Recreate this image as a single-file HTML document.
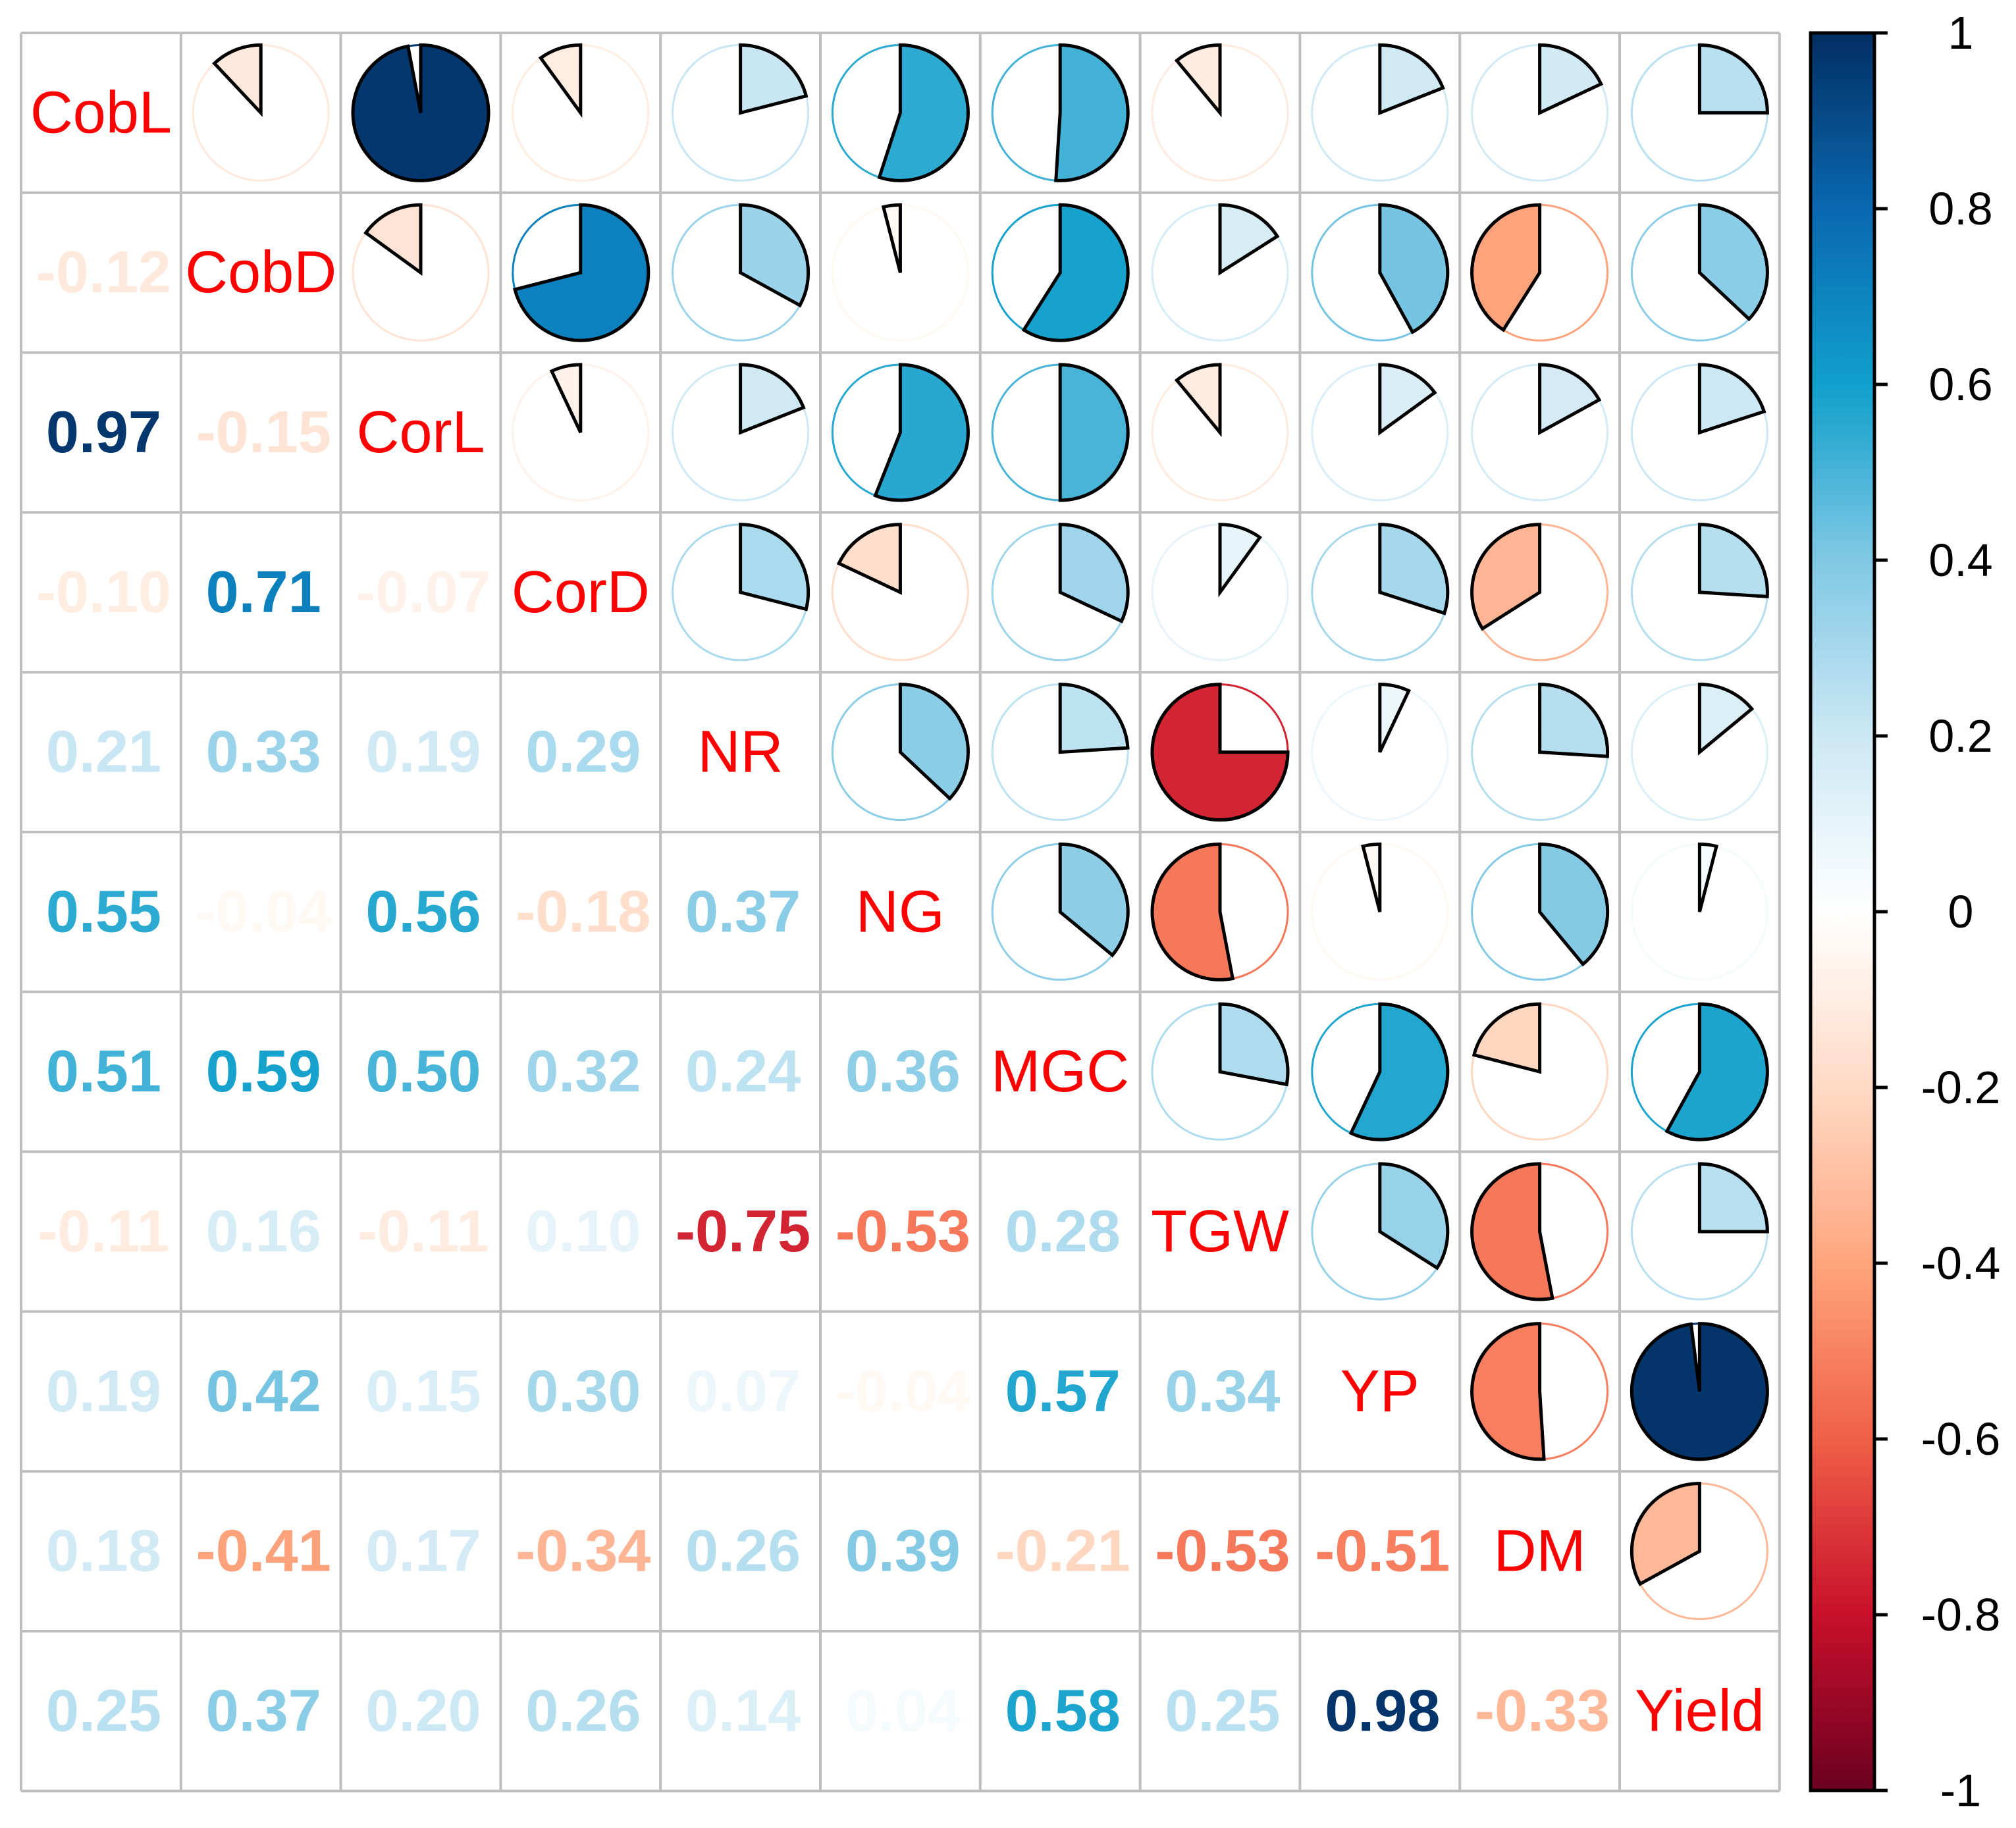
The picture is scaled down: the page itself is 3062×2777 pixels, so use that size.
<!DOCTYPE html>
<html><head><meta charset="utf-8"><style>
html,body{margin:0;padding:0;background:#fff;}
svg{display:block;}
</style></head><body>
<svg id="chart" width="3062" height="2777" viewBox="0 0 3062 2777" xmlns="http://www.w3.org/2000/svg"></svg>
<script>
const variables = ["CobL","CobD","CorL","CorD","NR","NG","MGC","TGW","YP","DM","Yield"];
const lowerRows = [
  [],
  [-0.12],
  [0.97,-0.15],
  [-0.10,0.71,-0.07],
  [0.21,0.33,0.19,0.29],
  [0.55,-0.04,0.56,-0.18,0.37],
  [0.51,0.59,0.50,0.32,0.24,0.36],
  [-0.11,0.16,-0.11,0.10,-0.75,-0.53,0.28],
  [0.19,0.42,0.15,0.30,0.07,-0.04,0.57,0.34],
  [0.18,-0.41,0.17,-0.34,0.26,0.39,-0.21,-0.53,-0.51],
  [0.25,0.37,0.20,0.26,0.14,0.04,0.58,0.25,0.98,-0.33]
];
const colorbarTicks = [1,0.8,0.6,0.4,0.2,0,-0.2,-0.4,-0.6,-0.8,-1];
const paletteStops = ["#6A0020","#C8102A","#F06048","#FFA57E","#FFDAC5","#FFFFFF","#CCE8F4","#80C8E4","#10A0CC","#0A68B0","#022E62"];

const NS="http://www.w3.org/2000/svg";
const svg=document.getElementById('chart');
const X0=32, Y0=50, CELL=242.8, N=variables.length, R=103;
function el(tag,attrs,parent){const e=document.createElementNS(NS,tag);for(const k in attrs)e.setAttribute(k,attrs[k]);(parent||svg).appendChild(e);return e;}
function hex(h){return [1,3,5].map(i=>parseInt(h.substr(i,2),16));}
function colorOf(r){
  const t=(r+1)/2*(paletteStops.length-1);
  const i=Math.min(Math.floor(t),paletteStops.length-2), f=t-i;
  const a=hex(paletteStops[i]), b=hex(paletteStops[i+1]);
  const c=a.map((v,k)=>Math.round(v+(b[k]-v)*f));
  return `rgb(${c[0]},${c[1]},${c[2]})`;
}
function corr(i,j){ if(i===j) return 1; return i>j?lowerRows[i][j]:lowerRows[j][i]; }
function cx(j){return X0+CELL*(j+0.5);}
function cy(i){return Y0+CELL*(i+0.5);}

const grid=el('g',{});


for(let k=0;k<=N;k++){
  el('line',{x1:X0+k*CELL,y1:Y0,x2:X0+k*CELL,y2:Y0+N*CELL,stroke:'#bebebe','stroke-width':4},grid);
  el('line',{x1:X0,y1:Y0+k*CELL,x2:X0+N*CELL,y2:Y0+k*CELL,stroke:'#bebebe','stroke-width':4},grid);
}

for(let i=0;i<N;i++){
  for(let j=0;j<N;j++){
    if(i===j){
      const t=el('text',{x:cx(j),y:cy(i),'text-anchor':'middle','dominant-baseline':'central','font-family':'Liberation Sans, sans-serif','font-size':90,fill:'#FF0000'});
      t.textContent=variables[i];
      
      
    } else if(i>j){
      const r=corr(i,j);
      const t=el('text',{x:cx(j)+4,y:cy(i),'text-anchor':'middle','dominant-baseline':'central','font-family':'Liberation Sans, sans-serif','font-weight':'bold','font-size':90,fill:colorOf(r)});
      t.textContent=r.toFixed(2);
      
      
    } else {
      const r=corr(i,j);
      const g=el('g',{});
      
      
      const x=cx(j), y=cy(i), col=colorOf(r);
      el('circle',{cx:x,cy:y,r:R,fill:'none',stroke:col,'stroke-width':3},g);
      const ang=r*2*Math.PI;
      const ex=x+R*Math.sin(ang), ey=y-R*Math.cos(ang);
      const large=Math.abs(r)>0.5?1:0, sweep=r>0?1:0;
      el('path',{d:`M${x},${y} L${x},${y-R} A${R},${R} 0 ${large} ${sweep} ${ex},${ey} Z`,fill:col,stroke:'#000','stroke-width':5,'stroke-linejoin':'miter'},g);
    }
  }
}

const CBX=2750, CBW=97, CBT=50, CBB=2720;
const defs=el('defs',{});
const lg=el('linearGradient',{id:'cbg',x1:0,y1:1,x2:0,y2:0},defs);
paletteStops.forEach((c,k)=>el('stop',{offset:k/(paletteStops.length-1),'stop-color':c},lg));
const cb=el('g',{});


el('rect',{x:CBX,y:CBT,width:CBW,height:CBB-CBT,fill:'url(#cbg)',stroke:'#000','stroke-width':5},cb);
colorbarTicks.forEach(v=>{
  const y=CBT+(1-v)/2*(CBB-CBT);
  el('line',{x1:CBX+CBW,y1:y,x2:CBX+CBW+20,y2:y,stroke:'#000','stroke-width':5},cb);
  const t=el('text',{x:2978,y:y,'text-anchor':'middle','dominant-baseline':'central','font-family':'Liberation Sans, sans-serif','font-size':70,fill:'#000'},cb);
  t.textContent=String(v);
  
  
});
</script>
</body></html>
